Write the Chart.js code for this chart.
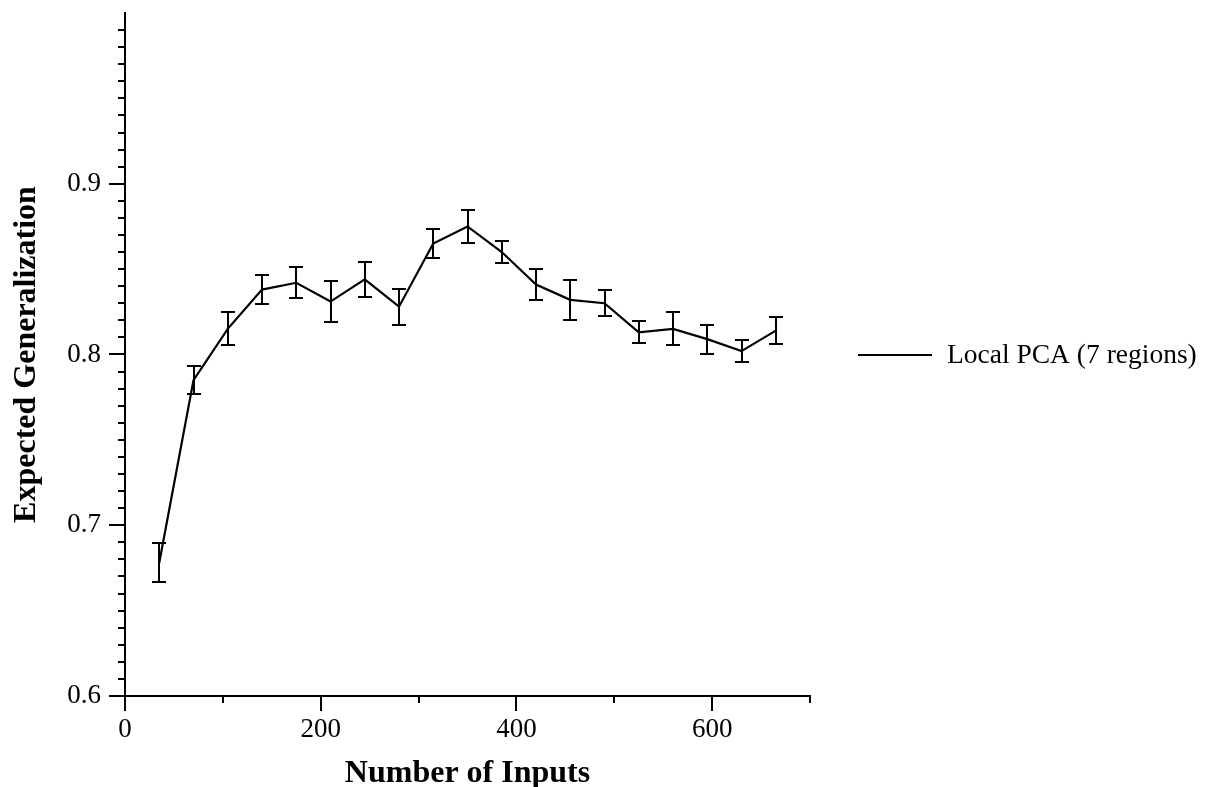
<!DOCTYPE html>
<html>
<head>
<meta charset="utf-8">
<script src="https://cdn.jsdelivr.net/npm/chart.js@4.4.1/dist/chart.umd.min.js"></script>
<style>
  html, body { margin: 0; padding: 0; background: #fff; }
  canvas { display: block; }
</style>
</head>
<body>
<canvas id="grafico" width="1207" height="787"></canvas>
<script>
// Datos
const inputs = [35, 70, 105, 140, 175, 210, 245, 280, 315, 350, 385, 420, 455, 490, 525, 560, 595, 630, 665];
const meanGen = [0.678, 0.785, 0.815, 0.838, 0.842, 0.831, 0.844, 0.828, 0.865, 0.875,
                 0.860, 0.841, 0.832, 0.830, 0.813, 0.815, 0.809, 0.802, 0.814];
const errGen = [0.0115, 0.0082, 0.0096, 0.0084, 0.0090, 0.0122, 0.0104, 0.0106, 0.0083, 0.0098,
                0.0066, 0.0092, 0.0119, 0.0075, 0.0064, 0.0096, 0.0085, 0.0064, 0.0078];
const xTicks = [0, 200, 400, 600];
const yTicks = [0.6, 0.7, 0.8, 0.9];
const seriesLabel = 'Local PCA (7 regions)';

const serif = 'Liberation Serif, Times New Roman, serif';

function isMajorX(v) { return xTicks.includes(Math.round(v)); }
function isMajorY(v) { return yTicks.some(t => Math.abs(t - v) < 1e-6); }

// barras de error
const errorBars = {
    id: 'errorBars',
    afterDatasetsDraw(chart) {
        const ctx = chart.ctx;
        const xs = chart.scales.x, ys = chart.scales.y;
        ctx.save();
        ctx.strokeStyle = '#000';
        ctx.lineWidth = 2;
        inputs.forEach((x, i) => {
            const px = Math.round(xs.getPixelForValue(x));
            const top = Math.round(ys.getPixelForValue(meanGen[i] + errGen[i]));
            const bot = Math.round(ys.getPixelForValue(meanGen[i] - errGen[i]));
            ctx.beginPath();
            ctx.moveTo(px, top); ctx.lineTo(px, bot);
            ctx.moveTo(px - 7, top); ctx.lineTo(px + 7, top);
            ctx.moveTo(px - 7, bot); ctx.lineTo(px + 7, bot);
            ctx.stroke();
        });
        ctx.restore();
    }
};

// marcas menores de los ejes
const minorTicks = {
    id: 'minorTicks',
    afterDraw(chart) {
        const ctx = chart.ctx;
        const xs = chart.scales.x, ys = chart.scales.y;
        ctx.save();
        ctx.strokeStyle = '#000';
        ctx.lineWidth = 2;
        ctx.beginPath();
        xs.ticks.forEach(t => {
            if (isMajorX(t.value)) return;
            const px = Math.round(xs.getPixelForValue(t.value));
            ctx.moveTo(px, xs.top); ctx.lineTo(px, xs.top + 7);
        });
        ys.ticks.forEach(t => {
            if (isMajorY(t.value) || t.value > 0.995) return;
            const py = Math.round(ys.getPixelForValue(t.value));
            ctx.moveTo(ys.right, py); ctx.lineTo(ys.right - 7, py);
        });
        ctx.stroke();
        ctx.restore();
    }
};

// leyenda a la derecha
const sideLegend = {
    id: 'sideLegend',
    afterDraw(chart) {
        const ctx = chart.ctx;
        const a = chart.chartArea;
        const y = Math.round((a.top + a.bottom) / 2);
        ctx.save();
        ctx.strokeStyle = '#000';
        ctx.lineWidth = 2;
        ctx.beginPath();
        ctx.moveTo(858, y); ctx.lineTo(932, y);
        ctx.stroke();
        ctx.fillStyle = '#000';
        ctx.font = '27.5px ' + serif;
        ctx.textBaseline = 'middle';
        ctx.textAlign = 'left';
        ctx.fillText(seriesLabel, 947, y + 1);
        ctx.restore();
    }
};

new Chart(document.getElementById('grafico'), {
    type: 'line',
    data: {
        datasets: [{
            label: seriesLabel,
            data: inputs.map((x, i) => ({ x: x, y: meanGen[i] })),
            borderColor: '#000',
            borderWidth: 2.2,
            pointRadius: 0,
            tension: 0,
            fill: false
        }]
    },
    options: {
        responsive: false,
        animation: false,
        devicePixelRatio: 1,
        layout: { padding: { top: 13, right: 397, left: 0, bottom: 0 } },
        plugins: {
            legend: { display: false },
            tooltip: { enabled: false }
        },
        scales: {
            x: {
                type: 'linear',
                min: 0,
                max: 700,
                afterFit(scale) {
                    scale.height = 91;
                    scale.paddingLeft = 0;
                    scale.paddingRight = 0;
                },
                border: { display: true, color: '#000', width: 2 },
                grid: {
                    drawOnChartArea: false,
                    tickLength: 15,
                    lineWidth: 2,
                    tickWidth: 2,
                    tickColor: c => isMajorX(c.tick.value) ? '#000' : 'rgba(0,0,0,0)'
                },
                ticks: {
                    stepSize: 100,
                    autoSkip: false,
                    maxRotation: 0,
                    padding: 3,
                    color: '#000',
                    font: { family: serif, size: 27 },
                    callback: v => isMajorX(v) ? String(v) : ''
                },
                title: {
                    display: true,
                    text: 'Number of Inputs',
                    color: '#000',
                    font: { family: serif, size: 32, weight: 'bold', lineHeight: 0.82 },
                    padding: { top: 0, bottom: 0 }
                }
            },
            y: {
                type: 'linear',
                min: 0.6,
                max: 1.0,
                afterFit(scale) {
                    scale.width = 125;
                    scale.paddingTop = 0;
                    scale.paddingBottom = 0;
                },
                border: { display: true, color: '#000', width: 2 },
                grid: {
                    drawOnChartArea: false,
                    tickLength: 16,
                    lineWidth: 2,
                    tickWidth: 2,
                    tickColor: c => isMajorY(c.tick.value) ? '#000' : 'rgba(0,0,0,0)'
                },
                ticks: {
                    stepSize: 0.01,
                    autoSkip: false,
                    padding: 8,
                    color: '#000',
                    font: { family: serif, size: 27 },
                    callback: v => isMajorY(v) ? v.toFixed(1) : ''
                },
                title: {
                    display: true,
                    text: 'Expected Generalization',
                    color: '#000',
                    font: { family: serif, size: 32, weight: 'bold', lineHeight: 1 },
                    padding: { top: 11, bottom: 0 }
                }
            }
        }
    },
    plugins: [errorBars, minorTicks, sideLegend]
});
</script>
</body>
</html>
